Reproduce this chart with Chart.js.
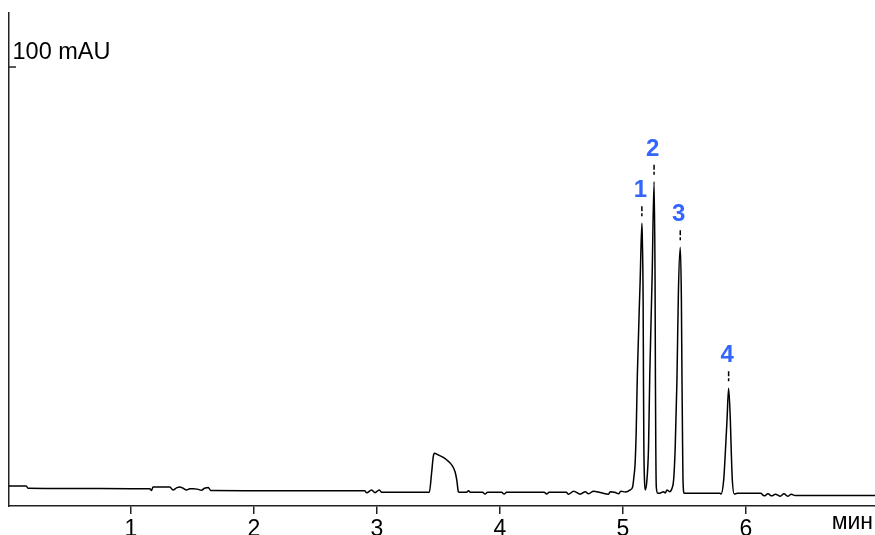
<!DOCTYPE html>
<html>
<head>
<meta charset="utf-8">
<script src="https://cdn.jsdelivr.net/npm/chart.js@4/dist/chart.umd.min.js"></script>
<style>
  html, body { margin: 0; padding: 0; background: #fff; }
  canvas { display: block; }
</style>
</head>
<body>
<canvas id="chrom" width="875" height="535"></canvas>
<script>
// Chromatogram trace (time in min, signal in mAU)
const times = [
  0.01, 0.15, 0.165, 0.5, 1.0, 1.155, 1.168, 1.181, 1.317, 1.344, 1.372, 1.399, 1.426, 1.453, 1.48,
  1.507, 1.54, 1.575, 1.60, 1.63, 1.65, 2.0, 2.5, 2.90, 2.918, 2.958, 2.985, 3.02, 3.04, 3.2,
  3.427, 3.445, 3.459, 3.468, 3.5, 3.54, 3.569, 3.61, 3.636, 3.65, 3.663, 3.67, 3.73, 3.745, 3.76,
  3.86, 3.88, 3.90, 4.015, 4.035, 4.055, 4.36, 4.382, 4.40, 4.54, 4.558, 4.6, 4.654, 4.695, 4.721,
  4.762, 4.816, 4.884, 4.897, 4.94, 4.965, 4.984, 5.02, 5.06, 5.08, 5.09, 5.10, 5.109, 5.118, 5.141,
  5.155, 5.158, 5.165, 5.168, 5.171, 5.176, 5.182, 5.196, 5.209, 5.219, 5.238, 5.254, 5.262, 5.265, 5.268,
  5.272, 5.283, 5.30, 5.331, 5.345, 5.359, 5.38, 5.40, 5.413, 5.426, 5.44, 5.452, 5.467, 5.476, 5.481,
  5.486, 5.489, 5.499, 5.6, 5.79, 5.798, 5.82, 5.833, 5.847, 5.86, 5.874, 5.882, 5.89, 5.906, 5.93,
  6.10, 6.12, 6.15, 6.18, 6.21, 6.24, 6.28, 6.31, 6.34, 6.37, 6.40, 7.05
];
const signal = [
  0.73, 0.73, 0.2, 0.15, 0.1, 0.1, -0.3, 0.5, 0.5, -0.2, 0.3, 0.5, 0.2, -0.2, 0.1,
  0.1, 0.0, -0.25, 0.2, 0.4, -0.35, -0.38, -0.38, -0.38, -0.85, -0.2, -0.85, -0.2, -0.76, -0.76,
  -0.76, 3.7, 7.7, 8.5, 8.1, 7.5, 6.9, 5.7, 4.1, 2.2, -0.6, -0.76, -0.76, -0.38, -0.76,
  -0.76, -1.16, -0.76, -0.76, -1.16, -0.76, -0.76, -1.16, -0.76, -0.76, -1.2, -0.5, -1.2, -0.6, -1.1,
  -0.5, -0.8, -1.2, -0.6, -0.8, -1.1, -0.5, -0.7, -0.2, 0.57, 2.9, 6.1, 14, 27, 49.5,
  63.0, 60, 45, 25, 10, 2.2, -0.2, 2.2, 10, 27, 50, 72.8, 49.5, 25.8, 10,
  0.57, -1.0, -1.0, -0.6, -0.9, -0.2, -0.6, 0.2, 2.2, 10, 25.8, 47, 57.3, 45, 25.8,
  10, 2.2, -1.0, -1.0, -1.0, -1.16, 2.2, 8.5, 16.4, 23.9, 16.4, 8.5, 2.2, -1.16, -1.0,
  -1.0, -1.0, -1.6, -1.1, -1.6, -1.2, -1.7, -1.1, -1.7, -1.2, -1.5, -1.5
];

// Peak marks
const peakNames = ['1', '2', '3', '4'];
const peakTimes = [5.155, 5.254, 5.467, 5.86];
const peakHeights = [63.0, 72.8, 57.3, 23.9];

// Axes
const xTicks = [1, 2, 3, 4, 5, 6];
const yTick = 100;
const yTickLabel = '100 mAU';
const xUnit = 'мин';

const FONT = "'Liberation Sans', Arial, sans-serif";

const annotate = {
  id: 'annotate',
  afterDraw(chart) {
    const { ctx, chartArea, scales: { x, y } } = chart;
    ctx.save();

    // y tick (points inward) with its label
    const py = y.getPixelForValue(yTick);
    ctx.strokeStyle = '#222';
    ctx.lineWidth = 1.5;
    ctx.beginPath();
    ctx.moveTo(chartArea.left, py);
    ctx.lineTo(chartArea.left + 7, py);
    ctx.stroke();
    ctx.fillStyle = '#000';
    ctx.font = '23.5px ' + FONT;
    ctx.textAlign = 'left';
    ctx.textBaseline = 'alphabetic';
    ctx.fillText(yTickLabel, chartArea.left + 3.5, py - 8);

    // unit
    ctx.font = '23px ' + FONT;
    ctx.textAlign = 'right';
    ctx.fillText(xUnit, chart.width - 2, 529);

    // peak numbers
    ctx.font = 'bold 24px ' + FONT;
    ctx.textAlign = 'center';
    peakNames.forEach((name, i) => {
      const px = x.getPixelForValue(peakTimes[i]);
      const top = y.getPixelForValue(peakHeights[i]);
      ctx.strokeStyle = '#000';
      ctx.lineWidth = 1.5;
      ctx.setLineDash([5, 2]);
      ctx.beginPath();
      ctx.moveTo(px, top - 17);
      ctx.lineTo(px, top - 7);
      ctx.stroke();
      ctx.setLineDash([]);
      ctx.fillStyle = '#3366ff';
      ctx.fillText(name, px - 1.5, top - 26);
    });
    ctx.restore();
  }
};

new Chart(document.getElementById('chrom'), {
  type: 'line',
  data: {
    datasets: [{
      data: times.map((t, i) => ({ x: t, y: signal[i] })),
      borderColor: '#000',
      borderWidth: 1.5,
      pointRadius: 0,
      cubicInterpolationMode: 'monotone',
      fill: false
    }]
  },
  options: {
    responsive: false,
    animation: false,
    devicePixelRatio: 1,
    layout: { padding: { top: 13, right: 0, left: 0, bottom: 0 } },
    plugins: { legend: { display: false }, tooltip: { enabled: false } },
    scales: {
      x: {
        type: 'linear',
        min: 0.01,
        max: 7.05,
        afterBuildTicks: (scale) => { scale.ticks = xTicks.map(v => ({ value: v })); },
        afterFit: (scale) => { scale.height = 29; },
        grid: { drawOnChartArea: false, drawTicks: true, tickLength: 8, color: '#222', lineWidth: 1.5 },
        border: { display: true, color: '#222', width: 1.5 },
        ticks: {
          color: '#000',
          font: { family: FONT, size: 23 },
          padding: 1.5,
          maxRotation: 0,
          callback: (v) => String(v)
        }
      },
      y: {
        type: 'linear',
        min: -4,
        max: 112.8,
        afterFit: (scale) => { scale.width = 9; },
        grid: { display: false },
        border: { display: true, color: '#222', width: 1.5 },
        ticks: { display: false }
      }
    }
  },
  plugins: [annotate]
});
</script>
</body>
</html>
